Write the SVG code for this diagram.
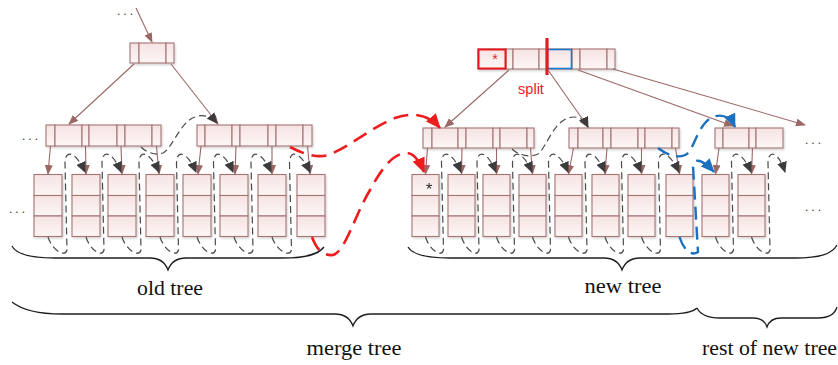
<svg xmlns="http://www.w3.org/2000/svg" xmlns:xlink="http://www.w3.org/1999/xlink" width="838" height="365" viewBox="0 0 838 365">
<style>
  .cell { fill: url(#cellFill); stroke: #a47573; stroke-width: 1.1; }
  .node { filter: url(#shadow); }
  .ptr { fill: none; stroke: #9b6866; stroke-width: 1.1; marker-end: url(#ahBrown); }
  .link { fill: none; stroke: #4a4a4a; stroke-width: 1.2; stroke-dasharray: 7 4; marker-end: url(#ahGray); }
  .linkNoHead { fill: none; stroke: #4a4a4a; stroke-width: 1.2; stroke-dasharray: 7 4; }
  .red { fill: none; stroke: #ee1c1c; stroke-width: 2.6; stroke-dasharray: 15 8; }
  .blue { fill: none; stroke: #1b70c0; stroke-width: 2.4; stroke-dasharray: 13 7; }
  .brace { fill: none; stroke: #1e1e1e; stroke-width: 1.3; }
  .label { font-family: "Liberation Serif", "Times New Roman", serif; font-size: 22px; fill: #111; text-anchor: middle; }
  .dots { font-family: "Liberation Sans", Arial, sans-serif; font-size: 12px; fill: #333; letter-spacing: 3px; }
</style>
<defs>
  <linearGradient id="cellFill" x1="0" y1="0" x2="0" y2="1">
    <stop offset="0" stop-color="#f6e3e3"/>
    <stop offset="1" stop-color="#fdf6f6"/>
  </linearGradient>
  <filter id="shadow" x="-10%" y="-10%" width="130%" height="130%">
    <feDropShadow dx="1" dy="1.5" stdDeviation="0.8" flood-color="#000" flood-opacity="0.18"/>
  </filter>
  <marker id="ahBrown" markerUnits="userSpaceOnUse" markerWidth="10" markerHeight="8" refX="9" refY="4" orient="auto">
    <path d="M0,0 L10,4 L0,8 z" fill="#9b6866"/>
  </marker>
  <marker id="ahGray" markerUnits="userSpaceOnUse" markerWidth="11" markerHeight="10" refX="10" refY="5" orient="auto">
    <path d="M0,0 L11,5 L0,10 z" fill="#3c3c3c"/>
  </marker>
  <marker id="ahRed" markerUnits="userSpaceOnUse" markerWidth="15" markerHeight="13" refX="14" refY="6.5" orient="auto">
    <path d="M0,0 L15,6.5 L0,13 z" fill="#ee1c1c"/>
  </marker>
  <marker id="ahBlue" markerUnits="userSpaceOnUse" markerWidth="14" markerHeight="12" refX="13" refY="6" orient="auto">
    <path d="M0,0 L14,6 L0,12 z" fill="#1b70c0"/>
  </marker>
  <!-- leaf page: three stacked entries -->
  <g id="leaf28">
    <rect class="cell" x="0" y="0" width="28" height="21"/>
    <rect class="cell" x="0" y="21" width="28" height="20.5"/>
    <rect class="cell" x="0" y="41.5" width="28" height="20.5"/>
  </g>
  <g id="leaf27">
    <rect class="cell" x="0" y="0" width="27" height="21"/>
    <rect class="cell" x="0" y="21" width="27" height="20.5"/>
    <rect class="cell" x="0" y="41.5" width="27" height="20.5"/>
  </g>
</defs>

<rect x="0" y="0" width="838" height="365" fill="#ffffff"/>

<!-- old tree: root and inner nodes -->
<g id="old-root" class="node">
  <rect class="cell" x="130" y="43" width="9" height="20"/>
  <rect class="cell" x="139" y="43" width="27" height="20"/>
  <rect class="cell" x="166" y="43" width="8" height="20"/>
</g>
<g id="old-inner-1" class="node">
  <rect class="cell" x="46" y="125" width="9" height="21"/>
  <rect class="cell" x="55" y="125" width="27" height="21"/>
  <rect class="cell" x="82" y="125" width="7" height="21"/>
  <rect class="cell" x="89" y="125" width="28" height="21"/>
  <rect class="cell" x="117" y="125" width="8" height="21"/>
  <rect class="cell" x="125" y="125" width="27" height="21"/>
  <rect class="cell" x="152" y="125" width="9" height="21"/>
</g>
<g id="old-inner-2" class="node">
  <rect class="cell" x="197" y="125" width="8" height="21"/>
  <rect class="cell" x="205" y="125" width="27" height="21"/>
  <rect class="cell" x="232" y="125" width="8" height="21"/>
  <rect class="cell" x="240" y="125" width="28" height="21"/>
  <rect class="cell" x="268" y="125" width="8" height="21"/>
  <rect class="cell" x="276" y="125" width="27" height="21"/>
  <rect class="cell" x="303" y="125" width="9" height="21"/>
</g>

<!-- old tree: leaves -->
<g id="old-leaf-1" class="node"><use xlink:href="#leaf28" href="#leaf28" x="34" y="174.5"/></g>
<g id="old-leaf-2" class="node"><use xlink:href="#leaf28" href="#leaf28" x="72" y="174.5"/></g>
<g id="old-leaf-3" class="node"><use xlink:href="#leaf28" href="#leaf28" x="108" y="174.5"/></g>
<g id="old-leaf-4" class="node"><use xlink:href="#leaf28" href="#leaf28" x="146" y="174.5"/></g>
<g id="old-leaf-5" class="node"><use xlink:href="#leaf28" href="#leaf28" x="183" y="174.5"/></g>
<g id="old-leaf-6" class="node"><use xlink:href="#leaf28" href="#leaf28" x="220" y="174.5"/></g>
<g id="old-leaf-7" class="node"><use xlink:href="#leaf28" href="#leaf28" x="258" y="174.5"/></g>
<g id="old-leaf-8" class="node"><use xlink:href="#leaf28" href="#leaf28" x="297" y="174.5"/></g>

<!-- new tree: root with split marker -->
<g id="new-root" class="node">
  <rect class="cell" x="478" y="49" width="28" height="20"/>
  <rect class="cell" x="506" y="49" width="7" height="20"/>
  <rect class="cell" x="513" y="49" width="26" height="20"/>
  <rect class="cell" x="539" y="49" width="8" height="20"/>
  <rect class="cell" x="547" y="49" width="25" height="20"/>
  <rect class="cell" x="572" y="49" width="8" height="20"/>
  <rect class="cell" x="580" y="49" width="27" height="20"/>
  <rect class="cell" x="607" y="49" width="8" height="20"/>
  <rect x="478.5" y="49.5" width="27" height="19" fill="none" stroke="#e8191f" stroke-width="2"/>
  <rect x="547.5" y="49.5" width="24" height="19" fill="none" stroke="#1f78c8" stroke-width="1.6"/>
  <text x="495" y="64" font-family="Liberation Sans, Arial, sans-serif" font-size="14" fill="#e8191f" text-anchor="middle">*</text>
</g>
<g id="split-mark">
  <line x1="547" y1="38" x2="547" y2="75" stroke="#e8191f" stroke-width="3.2"/>
  <text x="531" y="94" font-family="Liberation Sans, Arial, sans-serif" font-size="14.5" fill="#e8191f" text-anchor="middle">split</text>
</g>

<!-- new tree: inner nodes -->
<g id="new-inner-1" class="node">
  <rect class="cell" x="423" y="128" width="9" height="20"/>
  <rect class="cell" x="432" y="128" width="26" height="20"/>
  <rect class="cell" x="458" y="128" width="8" height="20"/>
  <rect class="cell" x="466" y="128" width="27" height="20"/>
  <rect class="cell" x="493" y="128" width="7" height="20"/>
  <rect class="cell" x="500" y="128" width="27" height="20"/>
  <rect class="cell" x="527" y="128" width="7" height="20"/>
</g>
<g id="new-inner-2" class="node">
  <rect class="cell" x="569" y="128" width="9" height="20"/>
  <rect class="cell" x="578" y="128" width="25" height="20"/>
  <rect class="cell" x="603" y="128" width="8" height="20"/>
  <rect class="cell" x="611" y="128" width="27" height="20"/>
  <rect class="cell" x="638" y="128" width="7" height="20"/>
  <rect class="cell" x="645" y="128" width="27" height="20"/>
  <rect class="cell" x="672" y="128" width="7" height="20"/>
</g>
<g id="new-inner-3" class="node">
  <rect class="cell" x="715" y="128" width="8" height="20"/>
  <rect class="cell" x="723" y="128" width="26" height="20"/>
  <rect class="cell" x="749" y="128" width="7" height="20"/>
  <rect class="cell" x="756" y="128" width="27" height="20"/>
</g>

<!-- new tree: leaves -->
<g id="new-leaf-1" class="node">
  <use xlink:href="#leaf27" href="#leaf27" x="412" y="174.5"/>
  <text x="429" y="195" font-family="Liberation Sans, Arial, sans-serif" font-size="16" fill="#222" text-anchor="middle">*</text>
</g>
<g id="new-leaf-2" class="node"><use xlink:href="#leaf27" href="#leaf27" x="448" y="174.5"/></g>
<g id="new-leaf-3" class="node"><use xlink:href="#leaf27" href="#leaf27" x="483" y="174.5"/></g>
<g id="new-leaf-4" class="node"><use xlink:href="#leaf27" href="#leaf27" x="519" y="174.5"/></g>
<g id="new-leaf-5" class="node"><use xlink:href="#leaf27" href="#leaf27" x="555" y="174.5"/></g>
<g id="new-leaf-6" class="node"><use xlink:href="#leaf27" href="#leaf27" x="592" y="174.5"/></g>
<g id="new-leaf-7" class="node"><use xlink:href="#leaf27" href="#leaf27" x="628" y="174.5"/></g>
<g id="new-leaf-8" class="node"><use xlink:href="#leaf27" href="#leaf27" x="666" y="174.5"/></g>
<g id="new-leaf-9" class="node"><use xlink:href="#leaf27" href="#leaf27" x="702" y="174.5"/></g>
<g id="new-leaf-10" class="node"><use xlink:href="#leaf27" href="#leaf27" x="738" y="174.5"/></g>

<!-- ellipsis marks -->
<g id="ellipses">
  <text class="dots" x="117" y="15">...</text>
  <text class="dots" x="22" y="140">...</text>
  <text class="dots" x="9" y="213">...</text>
  <text class="dots" x="805" y="144">...</text>
  <text class="dots" x="805" y="211">...</text>
</g>

<g id="connectors">
  <!-- child pointers: old tree -->
  <line class="ptr" x1="136" y1="8" x2="152" y2="42"/>
  <line class="ptr" x1="134" y1="64" x2="69" y2="124"/>
  <line class="ptr" x1="171" y1="64" x2="218" y2="124"/>
  <line class="ptr" x1="50.5" y1="146" x2="48" y2="174"/>
  <line class="ptr" x1="85.5" y1="146" x2="86" y2="174"/>
  <line class="ptr" x1="121" y1="146" x2="122" y2="174"/>
  <line class="ptr" x1="156.5" y1="146" x2="159" y2="174"/>
  <line class="ptr" x1="201" y1="146" x2="198" y2="174"/>
  <line class="ptr" x1="236" y1="146" x2="235" y2="174"/>
  <line class="ptr" x1="272" y1="146" x2="272" y2="174"/>
  <line class="ptr" x1="307.5" y1="146" x2="310" y2="174"/>

  <!-- child pointers: new tree -->
  <line class="ptr" x1="509" y1="70" x2="445" y2="127"/>
  <line class="ptr" x1="548" y1="70" x2="588" y2="127"/>
  <line class="ptr" x1="578" y1="70" x2="733" y2="126"/>
  <line class="ptr" x1="613" y1="69" x2="805" y2="125"/>
  <line class="ptr" x1="427.5" y1="148" x2="425.5" y2="174"/>
  <line class="ptr" x1="462" y1="148" x2="461.5" y2="174"/>
  <line class="ptr" x1="496.5" y1="148" x2="496.5" y2="174"/>
  <line class="ptr" x1="530.5" y1="148" x2="532.5" y2="174"/>
  <line class="ptr" x1="573.5" y1="148" x2="568.5" y2="174"/>
  <line class="ptr" x1="607" y1="148" x2="605" y2="174"/>
  <line class="ptr" x1="641.5" y1="148" x2="641.5" y2="174"/>
  <line class="ptr" x1="675.5" y1="148" x2="679.5" y2="174"/>
  <line class="ptr" x1="719" y1="148" x2="715.5" y2="174"/>
  <line class="ptr" x1="752.5" y1="148" x2="751.5" y2="174"/>

  <!-- sibling links between inner nodes -->
  <path class="link" d="M141,147 C146,152 155,156 163,153 C172,149 180,122 195,117 C203,114 211,116 217,123"/>
  <path class="link" d="M512,149 C518,155 530,158 538,154 C546,148 553,123 568,118 C577,115 584,119 588,127"/>

  <!-- sibling links between leaves: old tree -->
  <path class="link" d="M48,237 C52,250 65,258 67,250 L65,163 C65,150 75,150 85,172"/>
  <path class="link" d="M86,237 C90,250 102,258 104,250 L102,163 C102,150 112,150 121,172"/>
  <path class="link" d="M122,237 C126,250 139,258 141,250 L139,163 C139,150 149,150 159,172"/>
  <path class="link" d="M160,237 C164,250 176.5,258 178.5,250 L176.5,163 C176.5,150 186.5,150 196,172"/>
  <path class="link" d="M197,237 C201,250 213.5,258 215.5,250 L213.5,163 C213.5,150 223.5,150 233,172"/>
  <path class="link" d="M234,237 C238,250 251,258 253,250 L251,163 C251,150 261,150 271,172"/>
  <path class="link" d="M272,237 C276,250 289.5,258 291.5,250 L289.5,163 C289.5,150 299.5,150 310,172"/>

  <!-- sibling links between leaves: new tree -->
  <path class="link" d="M425.5,237 C429.5,250 441.5,258 443.5,250 L441.5,163 C441.5,150 451.5,150 461,172"/>
  <path class="link" d="M461.5,237 C465.5,250 477,258 479,250 L477,163 C477,150 487,150 496,172"/>
  <path class="link" d="M496.5,237 C500.5,250 512.5,258 514.5,250 L512.5,163 C512.5,150 522.5,150 532,172"/>
  <path class="link" d="M532.5,237 C536.5,250 548.5,258 550.5,250 L548.5,163 C548.5,150 558.5,150 568,172"/>
  <path class="link" d="M568.5,237 C572.5,250 585,258 587,250 L585,163 C585,150 595,150 605,172"/>
  <path class="link" d="M605,237 C609,250 621.5,258 623.5,250 L621.5,163 C621.5,150 631.5,150 641,172"/>
  <path class="link" d="M641.5,237 C645.5,250 658.5,258 660.5,250 L658.5,163 C658.5,150 668.5,150 679,172"/>
  <path class="link" d="M715.5,237 C719.5,250 731.5,258 733.5,250 L731.5,163 C731.5,150 741.5,150 751,172"/>
  <path class="link" d="M751.5,237 C755.5,250 768,258 770,250 L768,163 C768,150 778,150 785,172"/>

  <!-- links carried over from the old tree (red) -->
  <path class="red" marker-end="url(#ahRed)" d="M290,147 C305,155 318,158 328,155 C350,147 370,128 395,118 C412,112 428,114 440,128"/>
  <path class="red" marker-end="url(#ahRed)" d="M312,237 C316,248 322,256 333,255 C345,252 355,215 370,190 C382,168 392,155 405,153 C413,152 419,160 424,172"/>

  <!-- links crossing the split (blue) -->
  <path class="blue" marker-end="url(#ahBlue)" d="M658,148 C668,156 682,160 689,152 C695,144 700,122 713,117 C723,113 731,118 735,127"/>
  <path class="blue" marker-end="url(#ahBlue)" d="M679.5,237 C683,248 690,257 698,252 L693,166 C694,157 703,160 714,172"/>
</g>

<!-- braces and captions -->
<g id="brace-old-tree">
  <path class="brace" d="M12,246 C16,254 30,258 55,258 L150,258 C160,258 165,262 168,270 C171,262 176,258 186,258 L282,258 C305,258 318,255 324,247"/>
  <text class="label" x="170" y="295" textLength="66" lengthAdjust="spacingAndGlyphs">old tree</text>
</g>
<g id="brace-new-tree">
  <path class="brace" d="M408,247 C412,254 425,258 450,258 L604,258 C614,258 619,262 622,270 C625,262 630,258 640,258 L795,258 C820,258 832,254 837,245"/>
  <text class="label" x="623" y="293" textLength="77" lengthAdjust="spacingAndGlyphs">new tree</text>
</g>
<g id="brace-merge-tree">
  <path class="brace" d="M12,302 C22,310 38,314 62,314 L335,314 C345,314 350,318 353,326 C356,318 361,314 371,314 L668,314 C684,314 693,312 697,308"/>
  <text class="label" x="354" y="355" textLength="95" lengthAdjust="spacingAndGlyphs">merge tree</text>
</g>
<g id="brace-rest">
  <path class="brace" d="M697,308 C700,314 706,318 720,318 L753,318 C761,318 765,321 767,327 C769,321 773,318 781,318 L818,318 C829,318 835,314 837,307"/>
  <text class="label" x="769.5" y="355" textLength="135" lengthAdjust="spacingAndGlyphs">rest of new tree</text>
</g>
</svg>
